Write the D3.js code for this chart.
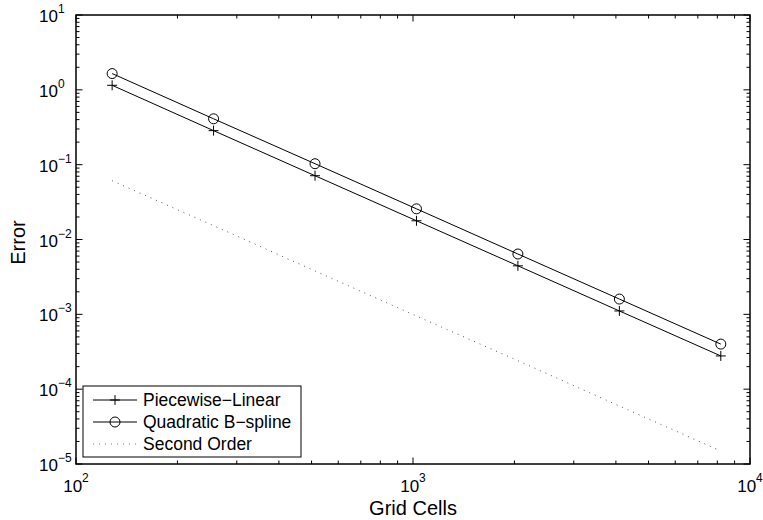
<!DOCTYPE html>
<html>
<head>
<meta charset="utf-8">
<script src="https://cdn.jsdelivr.net/npm/d3@7"></script>
<style>
body { margin: 0; background: #fff; }
svg { font-family: "Liberation Sans", Arial, sans-serif; }
</style>
</head>
<body>
<svg width="763" height="520"></svg>
<script>
// data
const gridCells = [128, 256, 512, 1024, 2048, 4096, 8192]
const piecewiseLinear = [1.15, 0.285, 0.0712, 0.0178, 0.00445, 0.00111, 0.000278]
const quadraticBspline = [1.65, 0.41, 0.103, 0.0257, 0.0064, 0.0016, 0.0004]
const secondOrder = [0.061, 0.0153, 0.0038, 0.00095, 0.00024, 0.0000596, 0.0000149]
const xDecades = [2, 3, 4]
const yDecades = [1, 0, -1, -2, -3, -4, -5]

const svg = d3.select("svg")

const pLeft = 76, pRight = 750, pTop = 15, pBottom = 464

const x = d3.scaleLog().domain([100, 10000]).range([pLeft, pRight])
const y = d3.scaleLog().domain([1e-5, 10]).range([pBottom, pTop])

// minor + major ticks
const xMinor = [], yMinor = []
for (let e = 2; e < 4; e++) for (let k = 2; k <= 9; k++) xMinor.push(k * Math.pow(10, e))
for (let e = -5; e < 1; e++) for (let k = 2; k <= 9; k++) yMinor.push(k * Math.pow(10, e))

const ticks = svg.append("g").attr("stroke", "#000").attr("stroke-width", 1)

xMinor.forEach(v => {
	ticks.append("line").attr("x1", x(v)).attr("x2", x(v)).attr("y1", pBottom).attr("y2", pBottom - 3.5)
	ticks.append("line").attr("x1", x(v)).attr("x2", x(v)).attr("y1", pTop).attr("y2", pTop + 3.5)
})
xDecades.forEach(e => {
	const v = Math.pow(10, e)
	ticks.append("line").attr("x1", x(v)).attr("x2", x(v)).attr("y1", pBottom).attr("y2", pBottom - 6.5)
	ticks.append("line").attr("x1", x(v)).attr("x2", x(v)).attr("y1", pTop).attr("y2", pTop + 6.5)
})
yMinor.forEach(v => {
	ticks.append("line").attr("y1", y(v)).attr("y2", y(v)).attr("x1", pLeft).attr("x2", pLeft + 3.5)
	ticks.append("line").attr("y1", y(v)).attr("y2", y(v)).attr("x1", pRight).attr("x2", pRight - 3.5)
})
yDecades.forEach(e => {
	const v = Math.pow(10, e)
	ticks.append("line").attr("y1", y(v)).attr("y2", y(v)).attr("x1", pLeft).attr("x2", pLeft + 6.5)
	ticks.append("line").attr("y1", y(v)).attr("y2", y(v)).attr("x1", pRight).attr("x2", pRight - 6.5)
})

// box
svg.append("rect")
	.attr("x", pLeft).attr("y", pTop)
	.attr("width", pRight - pLeft).attr("height", pBottom - pTop)
	.attr("fill", "none").attr("stroke", "#000").attr("stroke-width", 1.5)

// tick labels
xDecades.forEach(e => {
	const t = svg.append("text")
		.attr("x", x(Math.pow(10, e)))
		.attr("y", pBottom + 28)
		.attr("text-anchor", "middle")
		.style("font-size", "17px")
	t.append("tspan").text("10")
	t.append("tspan").attr("dy", -10).style("font-size", "12px").text(e)
})
yDecades.forEach(e => {
	const yy = y(Math.pow(10, e))
	svg.append("text")
		.attr("x", pLeft - 18)
		.attr("y", yy + 7)
		.attr("text-anchor", "end")
		.style("font-size", "17px")
		.text("10")
	svg.append("text")
		.attr("x", pLeft - 18)
		.attr("y", yy - 2)
		.attr("text-anchor", "start")
		.style("font-size", "12px")
		.text(e < 0 ? "\u2212" + (-e) : e)
})

// axis titles
svg.append("text")
	.attr("x", (pLeft + pRight) / 2)
	.attr("y", 515)
	.attr("text-anchor", "middle")
	.style("font-size", "20px")
	.text("Grid Cells")

svg.append("text")
	.attr("transform", `translate(25,${(pTop + pBottom) / 2 + 3}) rotate(-90)`)
	.attr("text-anchor", "middle")
	.style("font-size", "20px")
	.text("Error")

// lines
const line = d3.line()
	.x((d, i) => x(gridCells[i]))
	.y(d => y(d))

svg.append("path").datum(piecewiseLinear)
	.attr("d", line).attr("fill", "none").attr("stroke", "#000").attr("stroke-width", 1)
svg.append("path").datum(quadraticBspline)
	.attr("d", line).attr("fill", "none").attr("stroke", "#000").attr("stroke-width", 1)
svg.append("path").datum(secondOrder)
	.attr("d", line).attr("fill", "none").attr("stroke", "#555").attr("stroke-width", 1)
	.attr("stroke-dasharray", "1,5")

// markers
const plus = (g, cx, cy) => {
	g.append("path")
		.attr("d", `M${cx - 5},${cy}H${cx + 5}M${cx},${cy - 5}V${cy + 5}`)
		.attr("stroke", "#000").attr("stroke-width", 1)
}
const circ = (g, cx, cy) => {
	g.append("circle").attr("cx", cx).attr("cy", cy).attr("r", 5)
		.attr("fill", "none").attr("stroke", "#000").attr("stroke-width", 1)
}
const marks = svg.append("g")
piecewiseLinear.forEach((d, i) => plus(marks, x(gridCells[i]), y(d)))
quadraticBspline.forEach((d, i) => circ(marks, x(gridCells[i]), y(d)))

// legend
const lg = svg.append("g")
lg.append("rect")
	.attr("x", 83).attr("y", 386).attr("width", 218).attr("height", 71)
	.attr("fill", "#fff").attr("stroke", "#000").attr("stroke-width", 1)
const names = ["Piecewise\u2212Linear", "Quadratic B\u2212spline", "Second Order"]
names.forEach((n, i) => {
	const ly = 400 + i * 22
	const l = lg.append("line").attr("x1", 93).attr("x2", 137).attr("y1", ly).attr("y2", ly)
		.attr("stroke", i == 2 ? "#777" : "#000").attr("stroke-width", 1)
	if (i == 2) l.attr("stroke-dasharray", "1,5")
	if (i == 0) plus(lg, 115, ly)
	if (i == 1) circ(lg, 115, ly)
	lg.append("text").attr("x", 143).attr("y", ly + 6)
		.style("font-size", "17.5px").text(n)
})
</script>
</body>
</html>
